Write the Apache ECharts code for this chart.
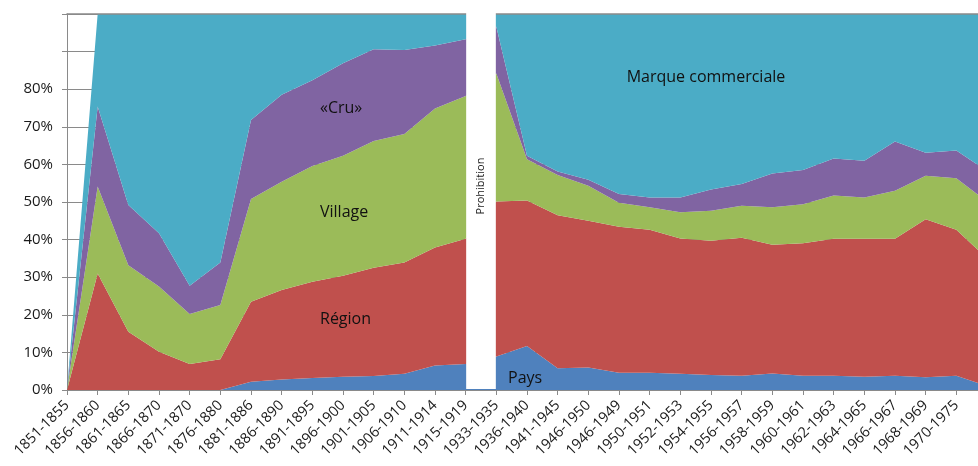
<!DOCTYPE html>
<html>
<head>
<meta charset="utf-8">
<script src="https://cdn.jsdelivr.net/npm/echarts@6/dist/echarts.min.js"></script>
<style>
html,body{margin:0;padding:0;background:#fff;}
#chart{width:978px;height:466px;}
</style>
</head>
<body>
<div id="chart"></div>
<script>
const categories = ['1851-1855','1856-1860','1861-1865','1866-1870','1871-1870','1876-1880','1881-1886','1886-1890','1891-1895','1896-1900','1901-1905','1906-1910','1911-1914','1915-1919','1933-1935','1936-1940','1941-1945','1946-1950','1946-1949','1950-1951','1952-1953','1954-1955','1956-1957','1958-1959','1960-1961','1962-1963','1964-1965','1966-1967','1968-1969','1970-1975',''];
const pays    = [0,0,0,0,0,0,2.2,2.8,3.2,3.5,3.7,4.3,6.5,6.9, 8.9,11.7,5.8,6.0,4.6,4.6,4.3,4.0,3.8,4.4,3.8,3.8,3.5,3.8,3.4,3.8,1.1];
const region  = [0,31.0,15.5,10.2,6.9,8.2,21.3,23.8,25.6,26.9,28.8,29.6,31.4,33.3, 41.2,38.7,40.7,39.0,38.8,38.0,36.0,35.7,36.7,34.2,35.2,36.4,36.7,36.4,42.0,38.8,33.9];
const village = [0,23.1,17.7,17.3,13.3,14.4,27.3,28.8,30.8,31.9,33.7,34.2,37.0,38.0, 34.1,11.0,10.7,9.3,6.4,6.0,7.0,8.0,8.5,10.0,10.4,11.5,11.0,12.8,11.6,13.7,15.1];
const cru     = [0,21.3,16.0,14.2,7.5,11.3,21.0,23.1,22.8,24.6,24.4,22.3,16.7,15.1, 12.4,0.9,0.9,1.6,2.3,2.6,3.9,5.6,5.8,9.0,9.1,9.9,9.8,13.1,6.1,7.4,8.1];
const marque  = [0,24.6,50.8,58.3,72.3,66.1,28.2,21.5,17.6,13.1,9.4,9.6,8.4,6.7, 3.4,37.7,41.9,44.1,47.9,48.8,48.8,46.7,45.2,42.4,41.5,38.4,39.0,33.9,36.9,36.3,41.8];
const seriesNames = ['Pays','Région','Village','«Cru»','Marque commerciale'];
const prohibition = ['1915-1919','1933-1935'];
const prohibitionLabel = 'Prohibition';

const colors = ['#4F81BD','#C0504D','#9BBB59','#8064A2','#4BACC6'];
const FONT = '"Open Sans", sans-serif';
const chart = echarts.init(document.getElementById('chart'));

const values = [pays, region, village, cru, marque];
const areaSeries = values.map((d, i) => ({
  name: seriesNames[i],
  type: 'line',
  stack: 'total',
  data: d,
  symbol: 'none',
  lineStyle: {width: 0},
  areaStyle: {color: colors[i], opacity: 1},
  itemStyle: {color: colors[i]},
  z: 2,
  silent: true
}));

const p0 = categories.indexOf(prohibition[0]);
const p1 = categories.indexOf(prohibition[1]);

const bandSeries = {
  type: 'custom',
  z: 10,
  silent: true,
  clip: false,
  data: [[p0, 0]],
  renderItem: function (params, api) {
    const tl = api.coord([p0, 100]);
    const br = api.coord([p1, 0]);
    const cx = (tl[0] + br[0]) / 2;
    const cy = (tl[1] + br[1]) / 2 - 16;
    return {
      type: 'group',
      children: [
        {type: 'rect', shape: {x: tl[0] + 0.5, y: tl[1] - 1.5, width: br[0] - tl[0] - 1, height: br[1] - tl[1] + 0.5}, style: {fill: '#ffffff'}},
        {type: 'text', x: cx, y: cy, rotation: Math.PI / 2,
         style: {text: prohibitionLabel, fill: '#1a1a1a', font: '11px ' + FONT, align: 'center', verticalAlign: 'middle'}}
      ]
    };
  }
};

const labels = [
  {text: '«Cru»', x: 320, y: 108, align: 'left'},
  {text: 'Village', x: 320, y: 212, align: 'left'},
  {text: 'Région', x: 320, y: 319, align: 'left'},
  {text: 'Pays', x: 508, y: 378, align: 'left'},
  {text: 'Marque commerciale', x: 706, y: 77, align: 'center'}
];

chart.setOption({
  animation: false,
  grid: {left: 67, width: 920, top: 14, bottom: 76, containLabel: false, outerBoundsMode: 'none'},
  xAxis: [{
    type: 'category',
    data: categories,
    boundaryGap: false,
    z: 3,
    axisLine: {show: true, lineStyle: {color: '#8a8a8a', width: 1}},
    axisTick: {show: true, interval: 0, length: 5, inside: false, lineStyle: {color: '#8a8a8a'}},
    axisLabel: {interval: 0, rotate: 45, margin: 13, fontSize: 14.5, fontFamily: FONT, color: '#1a1a1a'},
    splitLine: {show: false}
  }, {
    type: 'category',
    data: categories,
    boundaryGap: false,
    position: 'top',
    z: 3,
    axisLine: {show: true, lineStyle: {color: '#8a8a8a', width: 1.5}},
    axisTick: {show: false},
    axisLabel: {show: false},
    splitLine: {show: false}
  }],
  yAxis: {
    type: 'value',
    min: 0, max: 100, interval: 10,
    axisLine: {show: true, lineStyle: {color: '#8a8a8a', width: 1}},
    axisTick: {show: true, length: 5, lineStyle: {color: '#8a8a8a'}},
    axisLabel: {margin: 14, fontSize: 15, fontFamily: FONT, color: '#1a1a1a',
      formatter: v => (v <= 80 ? v + '%' : '')},
    splitLine: {show: true, lineStyle: {color: '#8a8a8a', width: 1}}
  },
  series: areaSeries.concat([bandSeries]),
  graphic: labels.map(l => ({
    type: 'text', x: l.x, y: l.y, z: 20, silent: true,
    style: {text: l.text, fill: '#111', font: '16px ' + FONT, align: l.align, verticalAlign: 'middle'}
  }))
});
</script>
</body>
</html>
